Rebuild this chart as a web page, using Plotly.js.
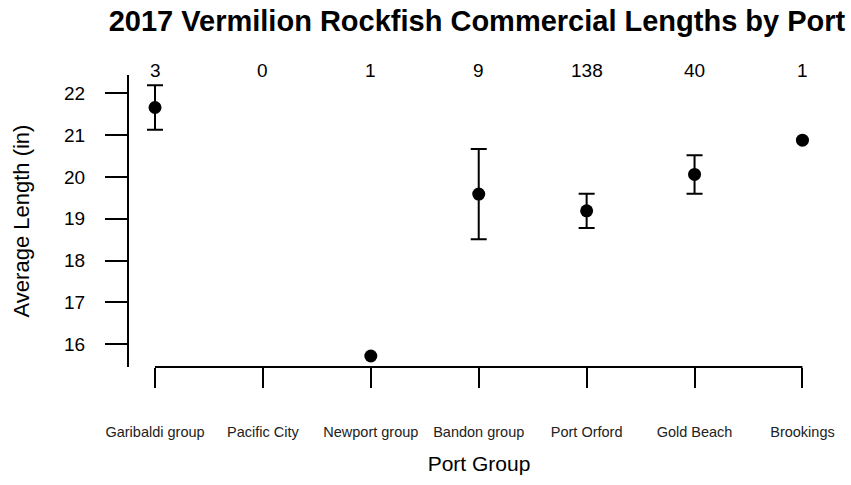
<!DOCTYPE html>
<html>
<head>
<meta charset="utf-8">
<script src="https://cdn.plot.ly/plotly-3.0.1.min.js"></script>
<style>html,body{margin:0;padding:0;background:#fff;}#chart{width:851px;height:485px;}</style>
</head>
<body>
<div id="chart"></div>
<script>
// Data
const ports = ["Garibaldi group", "Pacific City", "Newport group", "Bandon group", "Port Orford", "Gold Beach", "Brookings"];
const sampleCounts = [3, 0, 1, 9, 138, 40, 1];
const avgLength = [21.66, null, 15.72, 19.59, 19.19, 20.06, 20.88];
const errLength = [0.53, null, null, 1.08, 0.41, 0.46, null];
const yTicks = [16, 17, 18, 19, 20, 21, 22];

const pos = ports.map((p, i) => i + 1);
const FONT = "Liberation Sans, Arial, sans-serif";

// error bars only where an error exists (single-fish ports have none)
const errTrace = {
  type: "scatter",
  mode: "markers",
  x: pos,
  y: avgLength.map((v, i) => (errLength[i] == null ? null : v)),
  marker: {color: "rgba(0,0,0,0)", size: 1},
  error_y: {type: "data", array: errLength, visible: true, color: "black", thickness: 2, width: 8},
  cliponaxis: false,
  hoverinfo: "skip"
};

const pointTrace = {
  type: "scatter",
  mode: "markers",
  x: pos,
  y: avgLength,
  marker: {color: "black", size: 13, symbol: "circle"},
  cliponaxis: false,
  hoverinfo: "x+y"
};

const countAnnotations = sampleCounts.map((c, i) => ({
  x: pos[i], xref: "x", y: 1.017, yref: "paper",
  text: String(c), showarrow: false, xanchor: "center", yanchor: "middle",
  font: {family: FONT, size: 19, color: "black"}
}));

const layout = {
  width: 851, height: 485,
  margin: {l: 129, r: 22, t: 75, b: 118, pad: 0},
  paper_bgcolor: "white", plot_bgcolor: "white",
  showlegend: false,
  title: {
    text: "2017 Vermilion Rockfish Commercial Lengths by Port",
    font: {family: FONT, size: 29, color: "black", weight: "bold"},
    x: 0.5605, xanchor: "center", y: 0.958, yanchor: "middle"
  },
  xaxis: {
    range: [0.759, 7.246],
    tickmode: "array", tickvals: pos, ticktext: ports,
    ticks: "outside", ticklen: 20, tickwidth: 2, tickcolor: "black",
    showline: false, showgrid: false, zeroline: false,
    tickfont: {family: FONT, size: 14.5, color: "#222"},
    ticklabelstandoff: 32,
    title: {text: "Port Group", font: {family: FONT, size: 21, color: "black"}, standoff: 16},
    fixedrange: true
  },
  yaxis: {
    range: [15.457, 22.437],
    tickmode: "array", tickvals: yTicks, ticktext: yTicks.map(String),
    ticks: "outside", ticklen: 22, tickwidth: 2, tickcolor: "black",
    showline: true, linecolor: "black", linewidth: 2,
    showgrid: false, zeroline: false,
    tickfont: {family: FONT, size: 19, color: "black"},
    ticklabelstandoff: 16,
    title: {text: "Average Length (in)", font: {family: FONT, size: 22, color: "black"}, standoff: 28},
    fixedrange: true
  },
  shapes: [{
    type: "line", xref: "x", yref: "paper",
    x0: pos[0], x1: pos[pos.length - 1], y0: 0, y1: 0,
    line: {color: "black", width: 2}, layer: "above"
  }],
  annotations: countAnnotations
};

Plotly.newPlot("chart", [errTrace, pointTrace], layout, {displayModeBar: false, staticPlot: true});
</script>
</body>
</html>
